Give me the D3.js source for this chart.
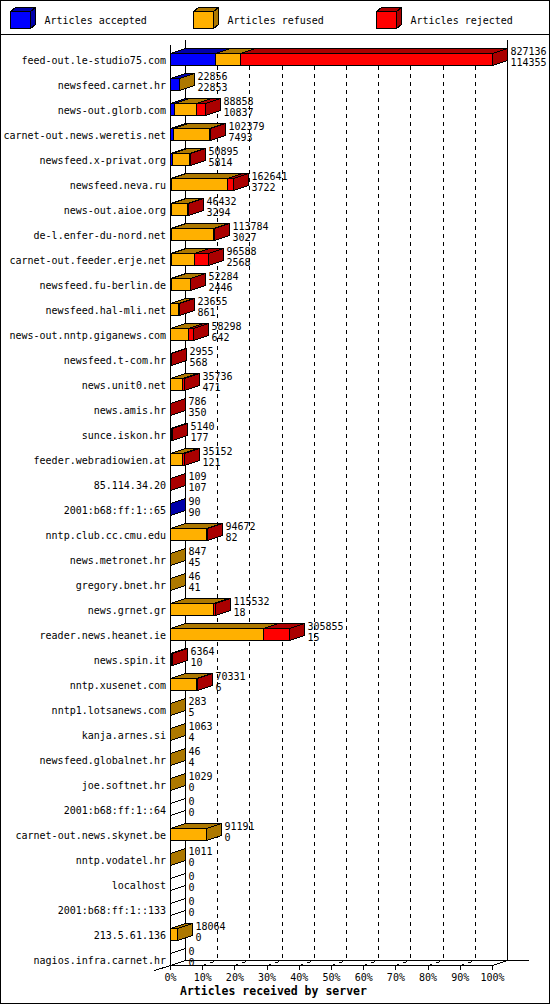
<!DOCTYPE html>
<html lang="en">

<head>
    <meta charset="UTF-8">
    <title>Articles received by server</title>
    <script src="https://d3js.org/d3.v7.min.js"></script>
    <style>
        body { margin: 0; background: #fff; }
        text { font-family: "DejaVu Sans Mono", monospace; font-size: 10px; fill: #000; }
    </style>
</head>

<body>
    <svg id="svg" width=550 height=1005></svg>
</body>
<script>
    // servers, top to bottom
    const servers = [
        "feed-out.le-studio75.com", "newsfeed.carnet.hr", "news-out.glorb.com",
        "carnet-out.news.weretis.net", "newsfeed.x-privat.org", "newsfeed.neva.ru",
        "news-out.aioe.org", "de-l.enfer-du-nord.net", "carnet-out.feeder.erje.net",
        "newsfeed.fu-berlin.de", "newsfeed.hal-mli.net", "news-out.nntp.giganews.com",
        "newsfeed.t-com.hr", "news.unit0.net", "news.amis.hr", "sunce.iskon.hr",
        "feeder.webradiowien.at", "85.114.34.20", "2001:b68:ff:1::65",
        "nntp.club.cc.cmu.edu", "news.metronet.hr", "gregory.bnet.hr", "news.grnet.gr",
        "reader.news.heanet.ie", "news.spin.it", "nntp.xusenet.com", "nntp1.lotsanews.com",
        "kanja.arnes.si", "newsfeed.globalnet.hr", "joe.softnet.hr", "2001:b68:ff:1::64",
        "carnet-out.news.skynet.be", "nntp.vodatel.hr", "localhost", "2001:b68:ff:1::133",
        "213.5.61.136", "nagios.infra.carnet.hr"
    ];
    // offered total (upper number) and accepted (lower number)
    const offered = [827136, 22856, 88858, 102379, 50895, 162641, 46432, 113784, 96588,
        52284, 23655, 58298, 2955, 35736, 786, 5140, 35152, 109, 90, 94672, 847, 46,
        115532, 305855, 6364, 70331, 283, 1063, 46, 1029, 0, 91191, 1011, 0, 0, 18064, 0];
    const accepted = [114355, 22853, 10837, 7493, 5814, 3722, 3294, 3027, 2568, 2446,
        861, 642, 568, 471, 350, 177, 121, 107, 90, 82, 45, 41, 18, 15, 10, 6, 5, 4, 4,
        0, 0, 0, 0, 0, 0, 0, 0];
    // split of the rest
    const refused = [64600, 3, 57000, 92000, 43000, 141700, 39600, 107400, 58300, 48160,
        18900, 44800, 0, 31200, 0, 3300, 31500, 0, 0, 91600, 802, 5, 111300, 238000,
        1800, 67600, 278, 1059, 42, 1029, 0, 91191, 1011, 0, 0, 18064, 0];
    const rejected = [648181, 0, 21021, 2886, 2081, 17219, 3538, 3357, 35720, 1678,
        3894, 12856, 2387, 4065, 436, 1663, 3531, 2, 0, 2990, 0, 0, 4214, 67840, 4554,
        2725, 0, 0, 0, 0, 0, 0, 0, 0, 0, 0, 0];
    const seriesNames = ["Articles accepted", "Articles refused", "Articles rejected"];
    const percentTicks = [0, 10, 20, 30, 40, 50, 60, 70, 80, 90, 100];

    const front = ["#0000ff", "#ffb000", "#ff0000"];
    const dark = ["#0000aa", "#ad7800", "#aa0000"];
    const DX = 15, DY = 5;        // depth of the 3d bars
    const floorY = 965;           // front edge of the floor

    const svg = d3.select("#svg");
    const root = svg.append("g").attr("shape-rendering", "crispEdges");

    const x = d3.scaleLinear().domain([0, d3.max(offered)]).range([170, 492]);
    const xp = d3.scaleLinear().domain([0, 100]).range([170, 492]);
    const y = d3.scalePoint().domain(servers).range([59, 959]);
    const px = v => Math.round(x(v)) + 0.5;

    root.append("rect").attr("x", 0.5).attr("y", 0.5).attr("width", 549).attr("height", 1003)
        .attr("fill", "#fff").attr("stroke", "#000");
    root.append("line").attr("x1", 0).attr("x2", 550).attr("y1", 34.5).attr("y2", 34.5)
        .attr("stroke", "#000");

    // legend
    seriesNames.forEach((name, i) => {
        const lx = 10.5 + 183 * i, ly = 11.5, w = 20, h = 17, d = 5, e = 4;
        const g = root.append("g");
        g.append("polygon").attr("points", [[lx, ly], [lx + d, ly - e], [lx + w + d, ly - e], [lx + w, ly]].join(" "))
            .attr("fill", dark[i]).attr("stroke", "#000");
        g.append("polygon").attr("points", [[lx + w, ly], [lx + w + d, ly - e], [lx + w + d, ly + h - e], [lx + w, ly + h]].join(" "))
            .attr("fill", dark[i]).attr("stroke", "#000");
        g.append("rect").attr("x", lx).attr("y", ly).attr("width", w).attr("height", h)
            .attr("fill", front[i]).attr("stroke", "#000");
        g.append("text").attr("x", lx + 34).attr("y", 24).text(name);
    });

    // back wall grid
    const gx = k => Math.round(xp(k)) + 0.5;
    root.append("g").selectAll("line").data(percentTicks.slice(1, -1)).join("line")
        .attr("x1", d => gx(d) + DX).attr("x2", d => gx(d) + DX)
        .attr("y1", 66).attr("y2", floorY - DY + 0.5)
        .attr("stroke", "#000").attr("stroke-dasharray", "4,4");
    root.append("g").selectAll("line").data(percentTicks.slice(1, -1)).join("line")
        .attr("x1", d => gx(d)).attr("y1", floorY + 0.5)
        .attr("x2", d => gx(d) + DX).attr("y2", floorY - DY + 0.5)
        .attr("stroke", "#000").attr("stroke-dasharray", "4,4");

    // walls and floor
    const walls = [
        [gx(0) + DX, 40, gx(0) + DX, floorY - DY + 0.5],
        [gx(100) + DX, 40, gx(100) + DX, floorY - DY + 0.5],
        [gx(0), 45, gx(0), floorY + 0.5],
        [gx(0) + DX, floorY - DY + 0.5, gx(100) + DX + 21, floorY - DY + 0.5],
        [gx(100), floorY + 0.5, gx(100) + DX, floorY - DY + 0.5],
        [gx(0) - 16, floorY + 5.5, gx(0), floorY + 0.5]
    ];
    root.append("g").selectAll("line").data(walls).join("line")
        .attr("x1", d => d[0]).attr("y1", d => d[1]).attr("x2", d => d[2]).attr("y2", d => d[3])
        .attr("stroke", "#000");

    const axis = d3.axisBottom(xp).tickValues(percentTicks).tickFormat(d => d + "%")
        .tickSize(5).tickSizeOuter(0).tickPadding(4);
    const ax = root.append("g").attr("transform", `translate(0,${floorY})`).call(axis);
    ax.attr("font-family", null).attr("font-size", null);
    ax.selectAll("text").attr("fill", "#000");

    // bars
    const rows = servers.map((s, i) => ({
        name: s, cy: y(s) + 0.5, total: offered[i],
        vals: [accepted[i], refused[i], rejected[i]]
    }));

    const bars = root.append("g");
    rows.forEach(r => {
        const top = r.cy - 6, bot = r.cy + 6;
        const g = bars.append("g");
        if (r.total === 0) {
            const x0 = px(0);
            g.append("polygon").attr("points", [[x0, top], [x0 + DX, top - DY], [x0 + DX, bot - DY], [x0, bot]].join(" "))
                .attr("fill", "none").attr("stroke", "#000");
            return;
        }
        let cum = 0;
        r.vals.forEach((v, k) => {
            if (v === 0) return;
            const x0 = px(cum), x1 = px(cum + v);
            cum += v;
            g.append("rect").attr("x", x0).attr("y", top).attr("width", x1 - x0).attr("height", bot - top)
                .attr("fill", front[k]).attr("stroke", "#000");
            g.append("polygon").attr("points", [[x0, top], [x0 + DX, top - DY], [x1 + DX, top - DY], [x1, top]].join(" "))
                .attr("fill", dark[k]).attr("stroke", "#000");
            g.append("polygon").attr("points", [[x1, top], [x1 + DX, top - DY], [x1 + DX, bot - DY], [x1, bot]].join(" "))
                .attr("fill", dark[k]).attr("stroke", "#000");
        });
    });

    // labels
    const labels = svg.append("g");
    labels.selectAll("text.name").data(rows).join("text").attr("class", "name")
        .attr("x", 166).attr("y", d => d.cy + 4).attr("text-anchor", "end").text(d => d.name);
    labels.selectAll("text.off").data(rows).join("text").attr("class", "off")
        .attr("x", d => px(d.total) + DX + 3).attr("y", d => d.cy - 5).text(d => d.total);
    labels.selectAll("text.acc").data(rows).join("text").attr("class", "acc")
        .attr("x", d => px(d.total) + DX + 3).attr("y", d => d.cy + 6).text(d => d.vals[0]);

    svg.append("text").attr("x", 180).attr("y", 995)
        .style("font-weight", "bold").style("font-size", "11.5px")
        .text("Articles received by server");
</script>

</html>
